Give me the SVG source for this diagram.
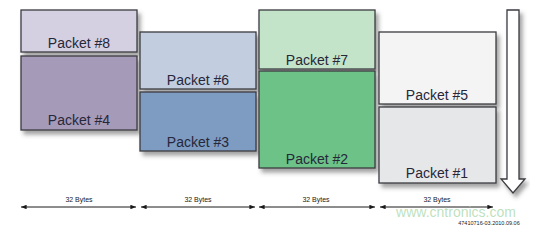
<svg xmlns="http://www.w3.org/2000/svg" width="553" height="229" viewBox="0 0 553 229">
<style>
.box{stroke:#3b3b40;stroke-width:1.3;filter:url(#sh)}
.lbl{font-family:"Liberation Sans",Arial,sans-serif;font-size:14px;fill:#26283a;text-anchor:middle}
.dim{stroke:#1a1a1a;stroke-width:1;fill:none;marker-start:url(#ah);marker-end:url(#ah)}
.dl{font-family:"Liberation Sans",Arial,sans-serif;font-size:7px;fill:#1a1a1a;text-anchor:middle}
</style>
<defs>
<filter id="sh" x="-10%" y="-10%" width="130%" height="140%">
<feDropShadow dx="3" dy="4" stdDeviation="2" flood-color="#555" flood-opacity="0.55"/>
</filter>
<marker id="ah" viewBox="0 0 10 8" refX="10" refY="4" markerWidth="6" markerHeight="4.5" orient="auto-start-reverse" markerUnits="userSpaceOnUse">
<path d="M0,0 L10,4 L0,8 z" fill="#1a1a1a"/>
</marker>
</defs>
<rect width="553" height="229" fill="#ffffff"/>
<g id="packet8"><rect class="box" x="21" y="10" width="116" height="42" fill="#d5d0e1"/><text class="lbl" x="79" y="48">Packet #8</text></g>
<g id="packet4"><rect class="box" x="21" y="56" width="116" height="74" fill="#a69ab9"/><text class="lbl" x="79" y="125">Packet #4</text></g>
<g id="packet6"><rect class="box" x="140" y="32" width="116" height="57" fill="#c2cde0"/><text class="lbl" x="198" y="85">Packet #6</text></g>
<g id="packet3"><rect class="box" x="140" y="92" width="116" height="59" fill="#7e9bc2"/><text class="lbl" x="198" y="147">Packet #3</text></g>
<g id="packet7"><rect class="box" x="259" y="10" width="116" height="59" fill="#c4e4c9"/><text class="lbl" x="317" y="65">Packet #7</text></g>
<g id="packet2"><rect class="box" x="259" y="71" width="116" height="97" fill="#6cc287"/><text class="lbl" x="317" y="164">Packet #2</text></g>
<g id="packet5"><rect class="box" x="379" y="32" width="117" height="72" fill="#f4f4f4"/><text class="lbl" x="437" y="100">Packet #5</text></g>
<g id="packet1"><rect class="box" x="379" y="107" width="117" height="76" fill="#e6e7e9"/><text class="lbl" x="437" y="178">Packet #1</text></g>
<g id="timeArrow"><path class="box" d="M507,10 L519,10 L519,179 L525,179 L513,193 L501,179 L507,179 Z" fill="#ffffff"/></g>
<g id="connectors">
<line class="dim" x1="21" y1="207" x2="136" y2="207"/>
<line class="dim" x1="141" y1="207" x2="255" y2="207"/>
<line class="dim" x1="259" y1="207" x2="375" y2="207"/>
<line class="dim" x1="380" y1="207" x2="493" y2="207"/>
</g>
<g id="labels">
<text class="dl" x="79" y="202">32 Bytes</text>
<text class="dl" x="198" y="202">32 Bytes</text>
<text class="dl" x="316" y="202">32 Bytes</text>
<text class="dl" x="437" y="202">32 Bytes</text>
<text x="456" y="217" font-family="'Liberation Sans',Arial,sans-serif" font-size="14" fill="#9fd39f" fill-opacity="0.7" text-anchor="middle">www.cntronics.com</text>
<text x="489" y="225" font-family="'Liberation Sans',Arial,sans-serif" font-size="5.5" fill="#222" text-anchor="middle">47410716-03.2010.09.06</text>
</g>
</svg>
